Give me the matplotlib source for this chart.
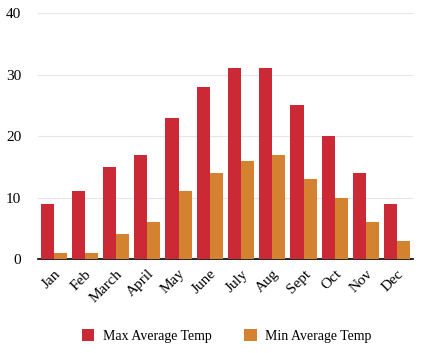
import numpy as np
import matplotlib
matplotlib.use("Agg")
import matplotlib.pyplot as plt

months = ["Jan", "Feb", "March", "April", "May", "June", "July", "Aug", "Sept", "Oct", "Nov", "Dec"]
max_temp = [9, 11, 15, 17, 23, 28, 31, 31, 25, 20, 14, 9]
min_temp = [1, 1, 4, 6, 11, 14, 16, 17, 13, 10, 6, 3]

plt.rcParams['font.family'] = ['Liberation Serif', 'DejaVu Serif']

fig = plt.figure(figsize=(4.27, 3.53), dpi=100)
ax = fig.add_axes([0.089, 0.266, 0.878, 0.697])

x = np.arange(len(months))
w = 0.42
ax.bar(x - w/2, max_temp, w, color='#cc2936', label='Max Average Temp', zorder=3)
ax.bar(x + w/2, min_temp, w, color='#d4822f', label='Min Average Temp', zorder=3)

ax.set_xlim(-0.5, len(months) - 0.5)
ax.set_ylim(0, 40)
ax.set_yticks([0, 10, 20, 30, 40])
ax.yaxis.grid(True, color='#e6e6e6', linewidth=0.8, zorder=0)
ax.set_xticks(x)
ax.set_xticklabels(months, rotation=45, ha='right', rotation_mode='anchor', fontsize=11)
ax.tick_params(axis='y', length=0, labelsize=11, pad=12)
ax.tick_params(axis='x', length=0, pad=6)
for s in ['top', 'right', 'left']:
    ax.spines[s].set_visible(False)
ax.spines['bottom'].set_color('black')
ax.spines['bottom'].set_linewidth(1.2)

ax.legend(loc='upper center', bbox_to_anchor=(0.503, -0.235), ncol=2, frameon=False,
          fontsize=10, handlelength=0.9, handleheight=0.9, columnspacing=2.35, handletextpad=0.6)

fig.savefig("out.png", dpi=100)
